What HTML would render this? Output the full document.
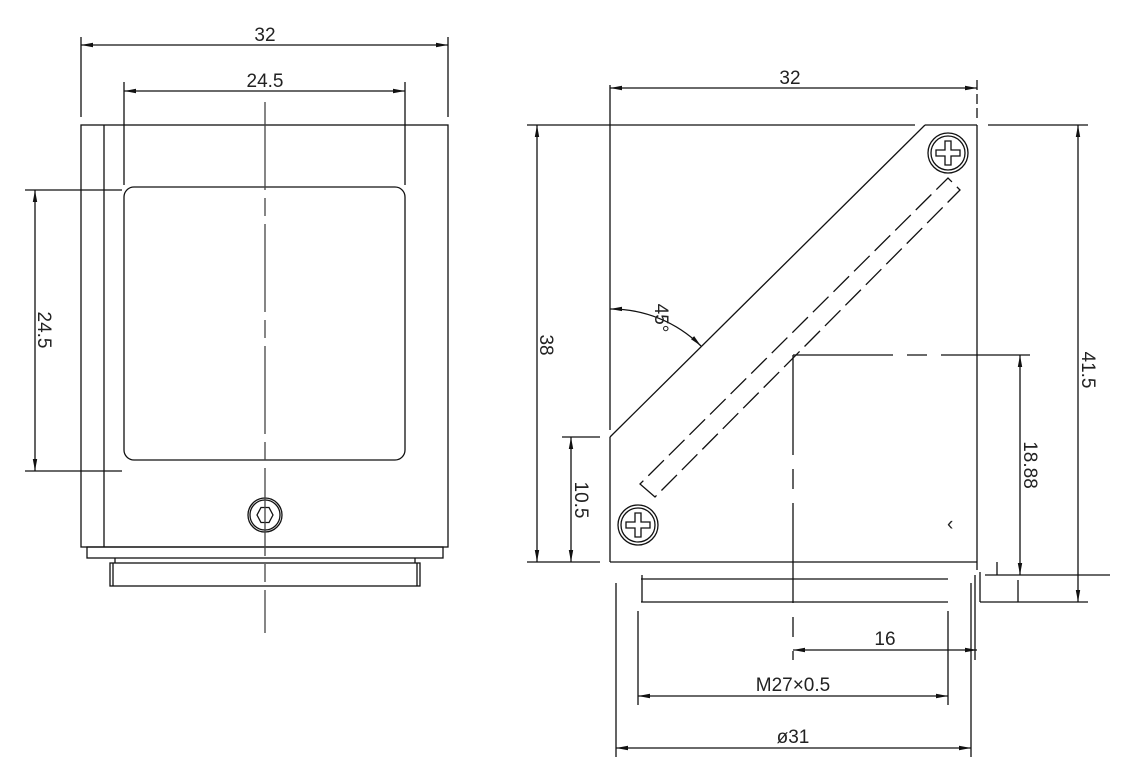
<!DOCTYPE html>
<html><head><meta charset="utf-8"><style>
html,body{margin:0;padding:0;background:#fff;}
svg{display:block;}
text{font-family:"Liberation Sans",sans-serif;font-size:19px;fill:#222;}
</style></head><body>
<svg width="1126" height="776" viewBox="0 0 1126 776" xmlns="http://www.w3.org/2000/svg">
<defs>
<marker id="a" viewBox="0 0 12 6" refX="12" refY="3" markerWidth="12" markerHeight="6" orient="auto-start-reverse" markerUnits="userSpaceOnUse"><path d="M0,0.8 L12,3 L0,5.2 Z" fill="#111"/></marker>
</defs>
<g stroke="#111" stroke-width="1.3" fill="none">
<rect x="81" y="125" width="367" height="422"/>
<line x1="104" y1="125" x2="104" y2="547"/>
<rect x="124" y="187" width="281" height="273" rx="10"/>
<rect x="87" y="547" width="356" height="11"/>
<line x1="115" y1="558" x2="115" y2="563"/><line x1="415" y1="558" x2="415" y2="563"/>
<rect x="110" y="563" width="310" height="23"/>
<line x1="113" y1="563" x2="113" y2="586"/><line x1="417" y1="563" x2="417" y2="586"/>
<circle cx="265" cy="515" r="17"/><circle cx="265" cy="515" r="15"/>
<polygon points="273,515 269,522.5 261,522.5 257,515 261,507.5 269,507.5"/>
<line x1="265" y1="102" x2="265" y2="633" stroke="#444" stroke-dasharray="88 8 18 8"/>
<line x1="81" y1="37" x2="81" y2="117"/><line x1="448" y1="37" x2="448" y2="117"/>
<line x1="81" y1="45" x2="448" y2="45" marker-start="url(#a)" marker-end="url(#a)"/>
<line x1="124" y1="82" x2="124" y2="185"/><line x1="405" y1="82" x2="405" y2="185"/>
<line x1="124" y1="91" x2="405" y2="91" marker-start="url(#a)" marker-end="url(#a)"/>
<line x1="25" y1="190" x2="122" y2="190"/><line x1="25" y1="471" x2="122" y2="471"/>
<line x1="35" y1="190" x2="35" y2="471" marker-start="url(#a)" marker-end="url(#a)"/>
<line x1="527" y1="125" x2="915" y2="125"/>
<line x1="925" y1="125" x2="977" y2="125"/>
<line x1="988" y1="125" x2="1088" y2="125"/>
<line x1="610" y1="85" x2="610" y2="430"/>
<line x1="610" y1="437" x2="610" y2="562"/>
<line x1="610" y1="437" x2="925" y2="125"/>
<line x1="977" y1="80" x2="977" y2="118" stroke-dasharray="10 4"/>
<line x1="977" y1="125" x2="977" y2="570"/>
<line x1="527" y1="562" x2="600" y2="562"/>
<line x1="610" y1="562" x2="977" y2="562"/>
<line x1="562" y1="437" x2="600" y2="437"/>
<polygon points="640,484 655,497 960,190 948,178" stroke-dasharray="22 7"/>
<circle cx="948" cy="153" r="20"/><circle cx="948" cy="153" r="17"/>
<path d="M945,141 h6 v9 h9 v6 h-9 v9 h-6 v-9 h-9 v-6 h9 z"/>
<circle cx="638" cy="525" r="20"/><circle cx="638" cy="525" r="17"/>
<path d="M635,513 h6 v9 h9 v6 h-9 v9 h-6 v-9 h-9 v-6 h9 z"/>
<path d="M610,309 A128,128 0 0 1 701,346" marker-start="url(#a)" marker-end="url(#a)"/>
<line x1="793" y1="355" x2="1030" y2="355" stroke-dasharray="100 14 20 14"/>
<line x1="793" y1="355" x2="793" y2="660" stroke-dasharray="100 14 20 14"/>
<line x1="641" y1="579" x2="948" y2="579"/>
<line x1="641" y1="602" x2="948" y2="602"/>
<line x1="642" y1="575" x2="642" y2="602"/>
<line x1="975" y1="575" x2="975" y2="660"/>
<line x1="980" y1="572" x2="980" y2="602"/>
<line x1="985" y1="575" x2="1110" y2="575"/>
<line x1="980" y1="602" x2="1088" y2="602"/>
<line x1="997" y1="562" x2="997" y2="575"/>
<line x1="1018" y1="580" x2="1018" y2="602"/>
<line x1="610" y1="88" x2="977" y2="88" marker-start="url(#a)" marker-end="url(#a)"/>
<line x1="537" y1="125" x2="537" y2="562" marker-start="url(#a)" marker-end="url(#a)"/>
<line x1="571" y1="437" x2="571" y2="562" marker-start="url(#a)" marker-end="url(#a)"/>
<line x1="1078" y1="125" x2="1078" y2="602" marker-start="url(#a)" marker-end="url(#a)"/>
<line x1="1020" y1="355" x2="1020" y2="575" marker-start="url(#a)" marker-end="url(#a)"/>
<line x1="793" y1="650" x2="977" y2="650" marker-start="url(#a)" marker-end="url(#a)"/>
<line x1="638" y1="611" x2="638" y2="705"/><line x1="948" y1="611" x2="948" y2="705"/>
<line x1="638" y1="696" x2="948" y2="696" marker-start="url(#a)" marker-end="url(#a)"/>
<line x1="616" y1="583" x2="616" y2="757"/><line x1="971" y1="583" x2="971" y2="757"/>
<line x1="616" y1="748" x2="971" y2="748" marker-start="url(#a)" marker-end="url(#a)"/>
</g>
<text x="265" y="41" text-anchor="middle">32</text>
<text x="265" y="87" text-anchor="middle">24.5</text>
<text transform="translate(38,330) rotate(90)" text-anchor="middle">24.5</text>
<text x="790" y="84" text-anchor="middle">32</text>
<text transform="translate(540,345) rotate(90)" text-anchor="middle">38</text>
<text transform="translate(575,500) rotate(90)" text-anchor="middle">10.5</text>
<text transform="translate(1082,370) rotate(90)" text-anchor="middle">41.5</text>
<text transform="translate(1024,465) rotate(90)" text-anchor="middle">18.88</text>
<text transform="translate(655,318) rotate(90)" text-anchor="middle">45°</text>
<text x="885" y="645" text-anchor="middle">16</text>
<text x="793" y="691" text-anchor="middle">M27×0.5</text>
<text x="793" y="743" text-anchor="middle">ø31</text>
<text x="947" y="530" font-size="10">‹</text>
</svg>
</body></html>
